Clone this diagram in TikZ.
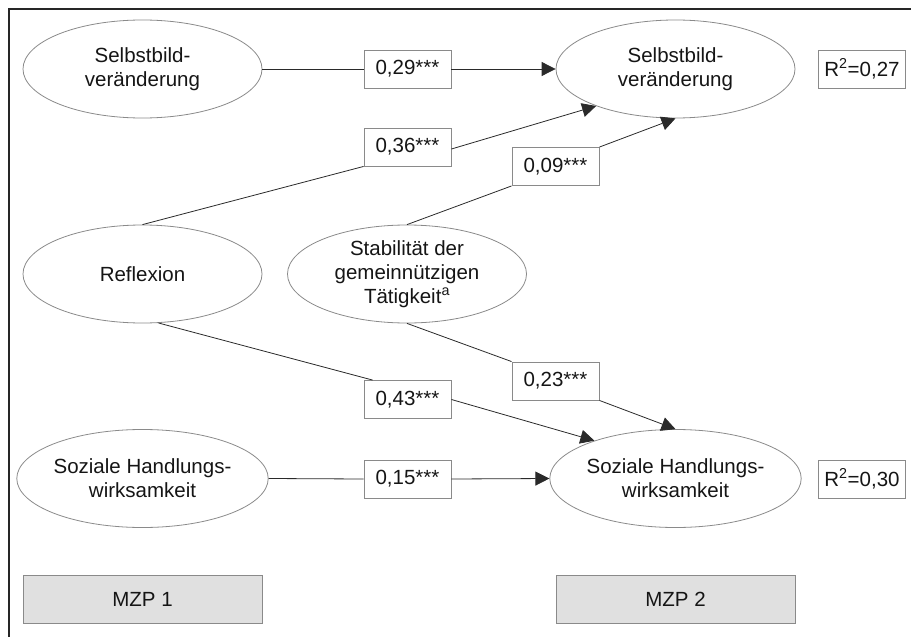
\documentclass[tikz,border=0pt]{standalone}
\usepackage{fontspec}
\setmainfont{Liberation Sans}
\usetikzlibrary{arrows.meta,shapes.geometric}
\definecolor{txt}{HTML}{151515}
\definecolor{edge}{HTML}{8A8A8A}
\definecolor{conn}{HTML}{2A2A2A}
\definecolor{mzpfill}{HTML}{E0E0E0}
\tikzset{
  latent/.style={draw=edge, line width=0.8pt, ellipse, minimum width=239pt, minimum height=98pt, inner sep=0pt, align=center, text=txt, font=\fontsize{20.5}{24}\selectfont},
  coef/.style={draw=edge, line width=0.9pt, rectangle, minimum width=87pt, minimum height=38pt, inner sep=0pt, text=txt, font=\fontsize{20.5}{24}\selectfont},
  mzp/.style={draw=edge, line width=0.9pt, fill=mzpfill, rectangle, minimum width=239pt, minimum height=48pt, inner sep=0pt, text=txt, font=\fontsize{20.5}{24}\selectfont},
  link/.style={draw=conn, line width=0.8pt},
  arr/.style={link, -{Triangle[length=14pt,width=14pt]}},
}
\begin{document}
\begin{tikzpicture}[x=1pt,y=-1pt]
\useasboundingbox (0,0) rectangle (911,637);
\draw[line width=2.4pt, black!85] (9,637) -- (9,9) -- (911,9);

\node[latent] (s1) at (142.5,69) {Selbstbild-\\veränderung};
\node[latent] (s2) at (675.5,69) {Selbstbild-\\veränderung};
\node[latent] (refl) at (142.5,274) {Reflexion};
\node[latent] (stab) at (407,274) {Stabilität der\\gemeinnützigen\\Tätigkeit\textsuperscript{a}};
\node[latent] (h1) at (142.5,478.5) {Soziale Handlungs-\\wirksamkeit};
\node[latent] (h2) at (675.5,478.5) {Soziale Handlungs-\\wirksamkeit};

\node[coef] (b29) at (407.5,69) {0,29***};
\node[coef] (b36) at (407.5,147) {0,36***};
\node[coef] (b09) at (555.5,166.5) {0,09***};
\node[coef] (b43) at (407.5,399.5) {0,43***};
\node[coef] (b23) at (555.5,381) {0,23***};
\node[coef] (b15) at (407.5,479) {0,15***};
\node[coef] (r1) at (862,69) {R\textsuperscript{2}=0,27};
\node[coef] (r2) at (862,479) {R\textsuperscript{2}=0,30};

\node[mzp] (m1) at (142.5,599) {MZP 1};
\node[mzp] (m2) at (675.5,599) {MZP 2};

\draw[link] (s1.east) -- (b29.west);
\draw[arr] (b29.east) -- (s2.west);
\draw[link] (refl.north) -- (b36.south west);
\draw[arr] ([yshift=-2pt]b36.east) -- (s2.205);
\draw[link] (stab.north) -- (b09.south west);
\draw[arr] (b09.north east) -- (s2.south);
\draw[link] (refl.-72) -- ([xshift=9pt]b43.north west);
\draw[arr] (b43.east) -- (h2.155);
\draw[link] (stab.south) -- (b23.north west);
\draw[arr] (b23.south east) -- (h2.north);
\draw[link] (h1.east) -- (b15.west);
\draw[arr] (b15.east) -- (h2.west);
\end{tikzpicture}
\end{document}
